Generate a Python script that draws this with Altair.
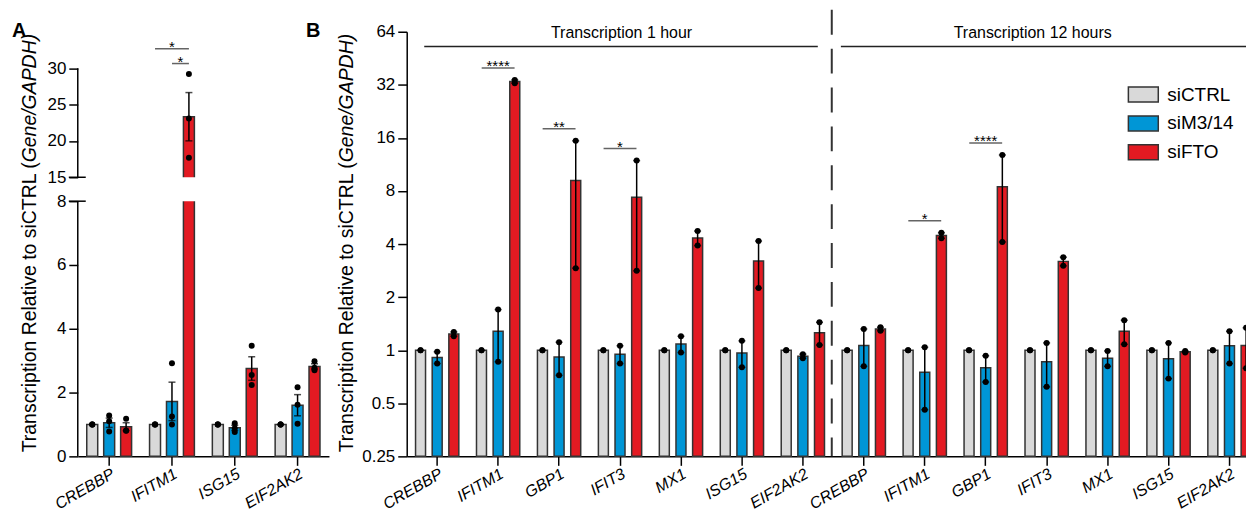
import altair as alt
import pandas as pd
import numpy as np

FONT = "Liberation Sans"

# ---------------- data ----------------
conds = ["siCTRL", "siM3/14", "siFTO"]
cond_colors = ["#d9d9d9", "#0096d6", "#e31a22"]

# Panel A (n = 3)
genes_A = ["CREBBP", "IFITM1", "ISG15", "EIF2AK2"]
A_siCTRL = [[1.0, 1.0, 1.0], [1.0, 1.0, 1.0], [1.0, 1.0, 1.0], [1.0, 1.0, 1.0]]
A_siM3 = [[1.28, 1.10, 0.78], [2.92, 1.25, 1.00], [1.04, 0.88, 0.76], [2.17, 1.62, 1.02]]
A_siFTO = [[1.18, 0.81, 0.80], [29.2, 23.1, 17.7], [3.47, 2.55, 2.24], [2.98, 2.78, 2.70]]
A_ticks_low = [0, 2, 4, 6, 8]
A_ticks_high = [15, 20, 25, 30]
sig_A = [("IFITM1", "all", "*"), ("IFITM1", "pair", "*")]

# Panel B (n = 2)
genes_B = ["CREBBP", "IFITM1", "GBP1", "IFIT3", "MX1", "ISG15", "EIF2AK2"]
times_B = ["1 hour", "12 hours"]
B1_siCTRL = [[1.0, 1.0]] * 7
B1_siM3 = [[0.98, 0.84], [1.70, 0.86], [1.11, 0.72], [1.06, 0.84], [1.20, 0.97], [1.13, 0.80], [0.95, 0.90]]
B1_siFTO = [[1.27, 1.20], [32.7, 34.1], [15.4, 2.92], [11.9, 2.82], [4.74, 3.92], [4.16, 2.25], [1.44, 1.07]]
B12_siCTRL = [[1.0, 1.0]] * 7
B12_siM3 = [[1.32, 0.81], [1.04, 0.46], [0.93, 0.66], [1.10, 0.62], [0.99, 0.81], [1.10, 0.69], [1.28, 0.84]]
B12_siFTO = [[1.29, 1.35], [4.64, 4.31], [12.8, 4.11], [3.37, 3.01], [1.48, 1.08], [0.97, 0.99], [1.34, 0.79]]
B_ticks = [0.25, 0.5, 1, 2, 4, 8, 16, 32, 64]
sig_B = [("IFITM1", "1 hour", "****"), ("GBP1", "1 hour", "**"), ("IFIT3", "1 hour", "*"),
         ("IFITM1", "12 hours", "*"), ("GBP1", "12 hours", "****")]

# ---------------- broken-axis transform for panel A ----------------
BREAK_LO, BREAK_HI, GAP, K = 8.0, 15.0, 0.75, 7.29 / 32.0


def brk(v):
    return v if v <= BREAK_LO else BREAK_LO + GAP + (v - BREAK_HI) * K


A_values = {"siCTRL": A_siCTRL, "siM3/14": A_siM3, "siFTO": A_siFTO}
pts_A, bars_A, caps_A = [], [], []
for c in conds:
    for gi, g in enumerate(genes_A):
        vals = A_values[c][gi]
        for v in vals:
            pts_A.append(dict(gene=g, cond=c, t=brk(v)))
        m = float(np.mean(vals))
        s = float(np.std(vals, ddof=1) / np.sqrt(len(vals)))
        bars_A.append(dict(gene=g, cond=c, t_mean=brk(m), t_lo=brk(m - s), t_hi=brk(m + s), se=s))
        if s > 0:
            caps_A.append(dict(gene=g, cond=c, t=brk(m - s)))
            caps_A.append(dict(gene=g, cond=c, t=brk(m + s)))
pts_A = pd.DataFrame(pts_A)
bars_A = pd.DataFrame(bars_A)
err_A = bars_A[bars_A["se"] > 0]
caps_A = pd.DataFrame(caps_A)

sigA_rows = []
for g, kind, lab in sig_A:
    top = max(A_siFTO[genes_A.index(g)])
    v = top + (3.5 if kind == "all" else 1.45)
    sigA_rows.append(dict(gene=g, kind=kind, label=lab, t=brk(v)))
sigA = pd.DataFrame(sigA_rows)

B_values = {"1 hour": {"siCTRL": B1_siCTRL, "siM3/14": B1_siM3, "siFTO": B1_siFTO},
            "12 hours": {"siCTRL": B12_siCTRL, "siM3/14": B12_siM3, "siFTO": B12_siFTO}}
keys_B = [f"{g}|{t}" for t in times_B for g in genes_B]
pts_B, bars_B, caps_B = [], [], []
for t in times_B:
    for c in conds:
        for gi, g in enumerate(genes_B):
            vals = B_values[t][c][gi]
            key = f"{g}|{t}"
            for v in vals:
                pts_B.append(dict(key=key, cond=c, v=v))
            m = float(np.mean(vals))
            s = float(np.std(vals, ddof=1) / np.sqrt(len(vals)))
            bars_B.append(dict(key=key, cond=c, mean=m, lo=m - s, hi=m + s, se=s))
            if s > 0:
                caps_B.append(dict(key=key, cond=c, v=m - s))
                caps_B.append(dict(key=key, cond=c, v=m + s))
pts_B = pd.DataFrame(pts_B)
bars_B = pd.DataFrame(bars_B)
err_B = bars_B[bars_B["se"] > 0]
caps_B = pd.DataFrame(caps_B)
sigB = pd.DataFrame([dict(key=f"{g}|{t}", label=lab,
                          v=max(B_values[t]["siFTO"][genes_B.index(g)]) * 1.17)
                     for g, t, lab in sig_B])

one = pd.DataFrame({"k": [0]})

# ---------------- panel A ----------------
WA, H = 252, 426
color_scale = alt.Scale(domain=conds, range=cond_colors)
xA_axis = alt.Axis(title=None, labelAngle=-30, labelAlign="right", labelBaseline="top",
                   labelFontStyle="italic", labelFontSize=16, tickSize=9, tickWidth=1.5,
                   domainWidth=1.5, labelPadding=0)
xA = alt.X("gene:N", sort=genes_A, scale=alt.Scale(paddingInner=0, paddingOuter=0), axis=xA_axis)
xoA = alt.XOffset("cond:N", sort=conds, scale=alt.Scale(paddingInner=0.353, paddingOuter=0.53))
yA_scale = alt.Scale(domain=[0, H / 32.0], nice=False, zero=False)
yA_axis = alt.Axis(title=None, values=[brk(v) for v in A_ticks_low + A_ticks_high],
                   labelExpr="datum.value <= 8 ? format(datum.value, 'd') : format(15 + (datum.value - 8.75) / %f, '.0f')" % K,
                   domain=False, tickSize=9, tickWidth=1.5, grid=False, labelFontSize=17, labelPadding=3)


def yA(field):
    return alt.Y(field, type="quantitative", scale=yA_scale, axis=yA_axis)


barsA = alt.Chart(bars_A).mark_bar(stroke="#333", strokeWidth=1.5).encode(
    x=xA, xOffset=xoA, y=yA("t_mean"), y2=alt.datum(0),
    color=alt.Color("cond:N", scale=color_scale, legend=None))
gapA = alt.Chart(one).mark_rect(color="white").encode(
    x=alt.value(1), x2=alt.value(WA), y=alt.datum(BREAK_LO), y2=alt.datum(BREAK_LO + GAP))
errA = alt.Chart(err_A).mark_rule(color="black", strokeWidth=1.5).encode(
    x=xA, xOffset=xoA, y=yA("t_lo"), y2="t_hi:Q")
capsA = alt.Chart(caps_A).mark_tick(color="black", size=7, thickness=1.5).encode(
    x=xA, xOffset=xoA, y=yA("t"))
ptsA = alt.Chart(pts_A).mark_circle(color="black", size=36, opacity=1).encode(
    x=xA, xOffset=xoA, y=yA("t"))
axA1 = alt.Chart(one).mark_rule(color="black", strokeWidth=1.5).encode(
    x=alt.value(0), y=alt.datum(0), y2=alt.datum(BREAK_LO))
axA2 = alt.Chart(one).mark_rule(color="black", strokeWidth=1.5).encode(
    x=alt.value(0), y=alt.datum(BREAK_LO + GAP), y2=alt.datum(brk(max(A_ticks_high))))
bkA1 = alt.Chart(one).mark_rule(color="black", strokeWidth=1.5).encode(
    x=alt.value(-9), x2=alt.value(8), y=alt.datum(BREAK_LO))
bkA2 = alt.Chart(one).mark_rule(color="black", strokeWidth=1.5).encode(
    x=alt.value(-9), x2=alt.value(8), y=alt.datum(BREAK_LO + GAP))
sigA_all = sigA[sigA["kind"] == "all"]
sigA_pair = sigA[sigA["kind"] == "pair"]
brA1 = alt.Chart(sigA_all).mark_tick(color="#222", size=34, thickness=1.5).encode(x=xA, y=yA("t"))
stA1 = alt.Chart(sigA_all).mark_text(font=FONT, fontSize=15, baseline="alphabetic", dy=3).encode(
    x=xA, y=yA("t"), text="label:N")
brA2 = alt.Chart(sigA_pair).mark_tick(color="#222", size=17, thickness=1.5, xOffset=8.5).encode(
    x=xA, y=yA("t"))
stA2 = alt.Chart(sigA_pair).mark_text(font=FONT, fontSize=15, baseline="alphabetic", dy=3, xOffset=8.5).encode(
    x=xA, y=yA("t"), text="label:N")
labA = alt.Chart(one).mark_text(text="A", font=FONT, fontSize=20, fontWeight="bold", align="left",
                                baseline="alphabetic").encode(x=alt.value(-66), y=alt.value(5))
JUNC = 131
TFS = 19.5
titA1 = alt.Chart(one).mark_text(text="Transcription Relative to siCTRL (", font=FONT, fontSize=TFS, angle=270,
                                 align="right", baseline="alphabetic").encode(x=alt.value(-42), y=alt.value(JUNC))
titA2 = alt.Chart(one).mark_text(text="Gene/GAPDH)", font=FONT, fontSize=TFS, angle=270, fontStyle="italic",
                                 align="left", baseline="alphabetic").encode(x=alt.value(-42), y=alt.value(JUNC))

panelA = alt.layer(barsA, gapA, errA, capsA, ptsA, axA1, axA2, bkA1, bkA2,
                   brA1, stA1, brA2, stA2, labA, titA1, titA2).properties(width=WA, height=H)

# ---------------- panel B ----------------
WB = 856
xB_axis = alt.Axis(title=None, labelAngle=-30, labelAlign="right", labelBaseline="top",
                   labelFontStyle="italic", labelFontSize=16, tickSize=9, tickWidth=1.5,
                   domainWidth=1.5, labelPadding=0, labelExpr="split(datum.label, '|')[0]")
xB = alt.X("key:N", sort=keys_B, scale=alt.Scale(paddingInner=0, paddingOuter=0), axis=xB_axis)
xoB = alt.XOffset("cond:N", sort=conds, scale=alt.Scale(paddingInner=0.4, paddingOuter=0.531))
yB_scale = alt.Scale(type="log", base=2, domain=[min(B_ticks), max(B_ticks)], nice=False)
yB_axis = alt.Axis(title=None, values=B_ticks, format="~g", tickSize=9, tickWidth=1.5, domainWidth=1.5,
                   grid=False, labelFontSize=17, labelPadding=3)


def yB(field):
    return alt.Y(field, type="quantitative", scale=yB_scale, axis=yB_axis)


legend_B = alt.Legend(orient="none", legendX=723, legendY=47, title=None,
                      symbolType="M-1,-0.5H1V0.5H-1Z", symbolSize=900, symbolStrokeColor="#333",
                      symbolStrokeWidth=1.5, symbolOpacity=1, labelFontSize=19, labelOffset=8,
                      labelFont=FONT, labelColor="black", rowPadding=2, padding=0)
barsB = alt.Chart(bars_B).mark_bar(stroke="#333", strokeWidth=1.5).encode(
    x=xB, xOffset=xoB, y=yB("mean"), y2=alt.datum(min(B_ticks)),
    color=alt.Color("cond:N", scale=color_scale, legend=legend_B))
errB = alt.Chart(err_B).mark_rule(color="black", strokeWidth=1.5).encode(
    x=xB, xOffset=xoB, y=yB("lo"), y2="hi:Q")
capsB = alt.Chart(caps_B).mark_tick(color="black", size=7, thickness=1.5).encode(
    x=xB, xOffset=xoB, y=yB("v"))
ptsB = alt.Chart(pts_B).mark_circle(color="black", size=36, opacity=1).encode(
    x=xB, xOffset=xoB, y=yB("v"))
brB = alt.Chart(sigB).mark_tick(color="#222", size=33, thickness=1.5).encode(x=xB, y=yB("v"))
stB = alt.Chart(sigB).mark_text(font=FONT, fontSize=15, baseline="alphabetic", dy=3).encode(
    x=xB, y=yB("v"), text="label:N")
hd1 = alt.Chart(one).mark_rule(color="#222", strokeWidth=1.5, xOffset=-13, x2Offset=15).encode(
    x=alt.datum(keys_B[0]), x2=alt.datum(keys_B[6]), y=alt.value(14.7))
hd2 = alt.Chart(one).mark_rule(color="#222", strokeWidth=1.5, xOffset=-23, x2Offset=28).encode(
    x=alt.datum(keys_B[7]), x2=alt.datum(keys_B[13]), y=alt.value(14.7))
ht1 = alt.Chart(one).mark_text(text="Transcription " + times_B[0], font=FONT, fontSize=16,
                               baseline="alphabetic", xOffset=1.5).encode(x=alt.datum(keys_B[3]), y=alt.value(6))
ht2 = alt.Chart(one).mark_text(text="Transcription " + times_B[1], font=FONT, fontSize=16,
                               baseline="alphabetic", xOffset=-14).encode(x=alt.datum(keys_B[10]), y=alt.value(6))
dash = alt.Chart(one).mark_rule(color="#333", strokeWidth=2, strokeDash=[25, 14], xOffset=29).encode(
    x=alt.datum(keys_B[6]), y=alt.value(-22), y2=alt.value(H))
labB = alt.Chart(one).mark_text(text="B", font=FONT, fontSize=20, fontWeight="bold", align="left",
                                baseline="alphabetic").encode(x=alt.value(-101), y=alt.value(5))
titB1 = alt.Chart(one).mark_text(text="Transcription Relative to siCTRL (", font=FONT, fontSize=TFS, angle=270,
                                 align="right", baseline="alphabetic").encode(x=alt.value(-54), y=alt.value(JUNC))
titB2 = alt.Chart(one).mark_text(text="Gene/GAPDH)", font=FONT, fontSize=TFS, angle=270, fontStyle="italic",
                                 align="left", baseline="alphabetic").encode(x=alt.value(-54), y=alt.value(JUNC))

panelB = alt.layer(barsB, errB, capsB, ptsB, brB, stB, hd1, hd2, ht1, ht2, dash, labB, titB1, titB2
                   ).properties(width=WB, height=H)

chart = alt.hconcat(panelA, panelB, spacing=78, bounds="flush").resolve_scale(
    x="independent", y="independent", xOffset="independent", color="independent"
).properties(
    padding={"left": 4, "top": 0, "right": -14, "bottom": -2}
).configure_view(stroke=None).configure_axis(
    labelFont=FONT, labelColor="black", domainColor="black", tickColor="black", grid=False
).configure_text(font=FONT, color="black")

chart.save("out.html", embed_options={"renderer": "svg", "actions": False})
